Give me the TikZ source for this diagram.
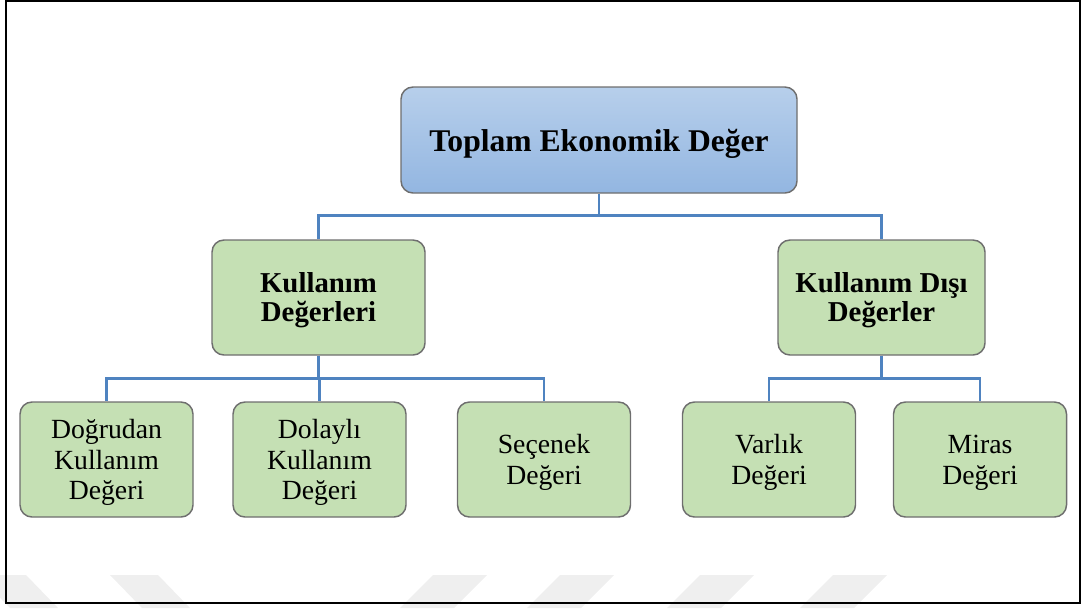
\documentclass[tikz,border=0pt]{standalone}
\usepackage{fontspec}
\setmainfont{Liberation Serif}
\definecolor{linkblue}{HTML}{4F83C0}
\definecolor{boxgreen}{HTML}{C5E0B4}
\definecolor{boxedge}{HTML}{6E6E6E}
\definecolor{topblue}{HTML}{B7CFEB}
\definecolor{lowblue}{HTML}{93B6E1}
\definecolor{chevgray}{HTML}{EFEFEF}
% strut that lowers a label a little inside its box
\newcommand\topstrut{\rule{0pt}{0.9em}}
\begin{document}
\begin{tikzpicture}[x=0.75pt,y=-0.75pt,
  box/.style={draw=boxedge, line width=1.1pt, rounded corners=9pt, align=center,
              inner sep=0pt},
  rootbox/.style={box, top color=topblue, bottom color=lowblue,
                  minimum width=297pt, minimum height=79.5pt,
                  font=\fontsize{23.7}{27}\selectfont\bfseries},
  midbox/.style={box, fill=boxgreen, minimum height=86.25pt,
                 font=\fontsize{21.6}{21.9}\selectfont\bfseries},
  leafbox/.style={box, fill=boxgreen, minimum width=129.75pt, minimum height=86.25pt,
                  font=\fontsize{20.8}{22.6}\selectfont},
  link/.style={draw=linkblue, line width=1.9pt}]
\useasboundingbox (0,0) rectangle (1084,608);

% faint background chevrons along the bottom edge
\foreach \a in {-22,110} {
  \fill[chevgray] (\a,575) -- (\a+48,575) -- (\a+80,608) -- (\a+32,608) -- cycle;
}
\foreach \a in {433,560,700,833} {
  \fill[chevgray] (\a,575) -- (\a+54,575) -- (\a+21,608) -- (\a-33,608) -- cycle;
}

% outer frame
\draw[black, line width=1.3pt] (6,1) rectangle (1080,603);

% boxes
\node[rootbox] (root) at (599,140) {\rule{0pt}{0.94em}Toplam Ekonomik Değer};
\node[midbox, minimum width=159.75pt] (use) at (318.5,297.5) {\topstrut Kullanım\\Değerleri};
\node[midbox, minimum width=155.25pt] (nonuse) at (881.5,297.5) {\topstrut Kullanım Dışı\\Değerler};

\node[leafbox] (direct) at (106.5,459.5) {\topstrut Doğrudan\\Kullanım\\Değeri};
\node[leafbox] (indirect) at (319.5,459.5) {\topstrut Dolaylı\\Kullanım\\Değeri};
\node[leafbox] (option) at (544,459.5) {\topstrut Seçenek\\Değeri};
\node[leafbox] (exist) at (769,459.5) {\topstrut Varlık\\Değeri};
\node[leafbox] (bequest) at (980,459.5) {\topstrut Miras\\Değeri};

% connectors
\draw[link] (root.south) -- ++(0,22) -| (use.north);
\draw[link] (root.south) -- ++(0,22) -| (nonuse.north);
\draw[link] (use.south) -- ++(0,23) -| (direct.north);
\draw[link] (use.south) -- ++(0,23) -| (indirect.north);
\draw[link] (use.south) -- ++(0,23) -| (option.north);
\draw[link] (nonuse.south) -- ++(0,23) -| (exist.north);
\draw[link] (nonuse.south) -- ++(0,23) -| (bequest.north);
\end{tikzpicture}
\end{document}
